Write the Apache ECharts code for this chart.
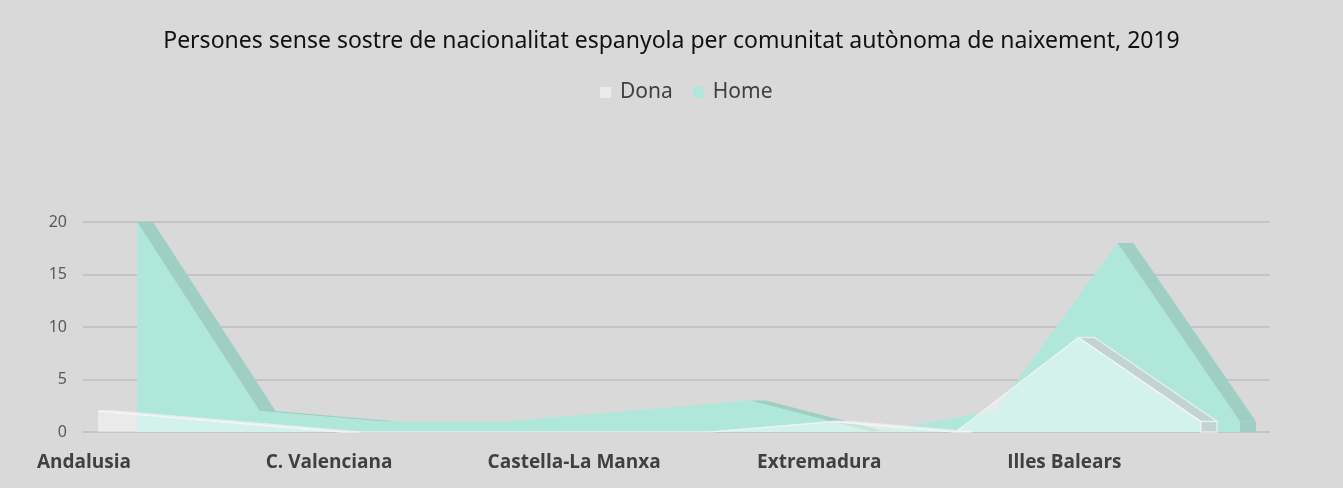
<!DOCTYPE html>
<html>
<head>
<meta charset="utf-8">
<script src="https://cdn.jsdelivr.net/npm/echarts@6/dist/echarts.min.js"></script>
<style>
  html, body { margin: 0; padding: 0; background: #d9d9d9; }
  #chart { width: 1343px; height: 488px; }
</style>
</head>
<body>
<div id="chart"></div>
<script>
// comunitats (només es mostra una de cada dues etiquetes)
const categories = ['Andalusia', 'Aragó', 'C. Valenciana', 'Canàries', 'Castella-La Manxa',
  'Comunitat de Madrid', 'Extremadura', 'Galícia', 'Illes Balears', 'País Basc'];
const dona = [2, 1, 0, 0, 0, 0, 1, 0, 9, 1];
const home = [20, 2, 1, 1, 2, 3, 0, 2, 18, 1];
const yTicks = [0, 5, 10, 15, 20];

const DEPTH = 16; // profunditat de la cara superior (px)

// trams descendents + tapa final: la cara superior visible del 3D
const bandData = (vals) => {
  const out = [];
  for (let i = 0; i < vals.length - 1; i++) {
    if (vals[i + 1] < vals[i]) out.push([i, vals[i], vals[i + 1], 0]);
  }
  out.push([vals.length - 1, vals[vals.length - 1], 0, 1]);
  return out;
};

const bandRender = (fill, stroke) => (params, api) => {
  const i = api.value(0), a = api.value(1), b = api.value(2), cap = api.value(3);
  let pts;
  if (cap) {
    const p = api.coord([i, a]), q = api.coord([i, 0]);
    pts = [p, [p[0] + DEPTH, p[1]], [q[0] + DEPTH, q[1]], q];
  } else {
    const p0 = api.coord([i, a]), p1 = api.coord([i + 1, b]);
    pts = [p0, p1, [p1[0] + DEPTH, p1[1]], [p0[0] + DEPTH, p0[1]]];
  }
  return {
    type: 'polygon',
    shape: { points: pts },
    style: { fill: fill, stroke: stroke, lineWidth: stroke ? 1.5 : 0 }
  };
};

const chart = echarts.init(document.getElementById('chart'));

const STEP = 122.55;
const span = STEP * (categories.length - 1);
const gridAt = (left) => ({ left: left, width: span, top: 222, bottom: 56 });

const hiddenX = (gi) => ({
  type: 'category', gridIndex: gi, data: categories, boundaryGap: false,
  axisLine: { show: false }, axisTick: { show: false }, axisLabel: { show: false }
});
const hiddenY = (gi) => ({
  type: 'value', gridIndex: gi, min: 0, max: 20, interval: 5,
  axisLine: { show: false }, axisTick: { show: false }, axisLabel: { show: false },
  splitLine: { show: false }
});

const option = {
  backgroundColor: '#d9d9d9',
  animation: false,
  title: {
    text: 'Persones sense sostre de nacionalitat espanyola per comunitat autònoma de naixement, 2019',
    left: 'center', top: 25,
    textStyle: { fontFamily: 'Noto Sans', fontSize: 23, fontWeight: 'normal', color: '#111111' }
  },
  legend: {
    top: 77, left: 595, itemWidth: 11, itemHeight: 11, itemGap: 20,
    icon: 'rect',
    data: [
      { name: 'Dona', itemStyle: { color: '#ebebeb' } },
      { name: 'Home', itemStyle: { color: '#afe8da' } }
    ],
    textStyle: { fontFamily: 'Noto Sans', fontSize: 21, color: '#404040', padding: [0, 0, 0, 4] }
  },
  grid: [
    { left: 83, right: 73, top: 222, bottom: 56 }, // eix y i línies
    gridAt(84),   // etiquetes de categoria
    gridAt(98),   // Dona
    gridAt(137)   // Home
  ],
  xAxis: [
    { type: 'value', gridIndex: 0, show: false, min: 0, max: 1 },
    {
      type: 'category', gridIndex: 1, data: categories, boundaryGap: false,
      axisLine: { show: false }, axisTick: { show: false },
      axisLabel: {
        interval: 1, margin: 21,
        fontFamily: 'Open Sans', fontSize: 19, fontWeight: 'bold', color: '#404040'
      }
    },
    hiddenX(2),
    hiddenX(3)
  ],
  yAxis: [
    {
      type: 'value', gridIndex: 0, min: 0, max: 20, interval: 5,
      axisLine: { show: false }, axisTick: { show: false },
      axisLabel: {
        margin: 16, fontFamily: 'Noto Sans', fontSize: 16, color: '#595959',
        formatter: (v) => (yTicks.includes(v) ? String(v) : '')
      },
      splitLine: { lineStyle: { color: '#bcbcbc', width: 1.5 } }
    },
    hiddenY(1),
    hiddenY(2),
    hiddenY(3)
  ],
  series: [
    {
      name: 'HomeTop', type: 'custom', xAxisIndex: 3, yAxisIndex: 3, z: 1,
      encode: { x: 0, y: 1 }, silent: true,
      renderItem: bandRender('#9fcfc3', null),
      data: bandData(home)
    },
    {
      name: 'Home', type: 'line', xAxisIndex: 3, yAxisIndex: 3, z: 2,
      data: home, symbol: 'none', lineStyle: { width: 0 },
      itemStyle: { color: '#afe8da' },
      areaStyle: { color: '#afe8da', opacity: 1 }
    },
    {
      name: 'DonaTop', type: 'custom', xAxisIndex: 2, yAxisIndex: 2, z: 3,
      encode: { x: 0, y: 1 }, silent: true,
      renderItem: bandRender('rgba(200,206,204,0.75)', 'rgba(240,240,240,0.8)'),
      data: bandData(dona)
    },
    {
      name: 'Dona', type: 'line', xAxisIndex: 2, yAxisIndex: 2, z: 4,
      data: dona, symbol: 'none',
      lineStyle: { width: 1.5, color: 'rgba(245,245,245,0.8)' },
      itemStyle: { color: '#ebebeb' },
      areaStyle: { color: 'rgba(255,255,255,0.45)', opacity: 1 }
    }
  ]
};

chart.setOption(option);
window.addEventListener('resize', chart.resize);
</script>
</body>
</html>
